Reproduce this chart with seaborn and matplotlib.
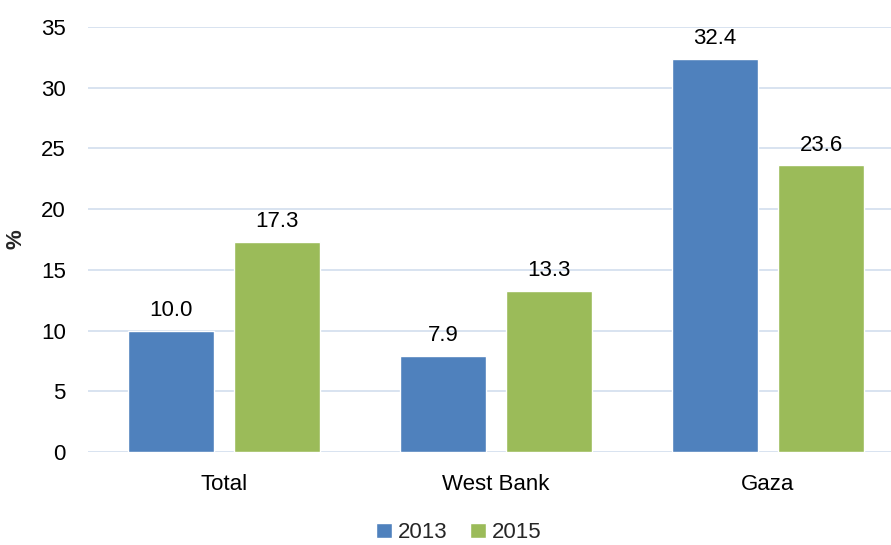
import matplotlib
matplotlib.use("Agg")
import matplotlib.pyplot as plt
import seaborn as sns
import pandas as pd

categories = ["Total", "West Bank", "Gaza"]
years = ["2013", "2015"]
values_2013 = [10.0, 7.9, 32.4]
values_2015 = [17.3, 13.3, 23.6]
yticks = [0, 5, 10, 15, 20, 25, 30, 35]

colors = ["#4F81BD", "#9BBB59"]

df = pd.DataFrame({
    "category": categories * 2,
    "year": [years[0]] * 3 + [years[1]] * 3,
    "value": values_2013 + values_2015,
})

sns.set_theme(style="white")
plt.rcParams["font.family"] = ["Liberation Sans", "DejaVu Sans"]

fig = plt.figure(figsize=(8.91, 5.45), dpi=100)
ax = fig.add_axes([88 / 891, 1 - 452 / 545, 1 - 88 / 891, (452 - 27) / 545])

sns.barplot(data=df, x="category", y="value", hue="year", palette=colors,
            width=0.779, gap=0.19, saturation=1, ax=ax, zorder=3)

for cont in ax.containers:
    ax.bar_label(cont, fmt="%.1f", padding=7, fontsize=16, color="#000000")

ax.set_ylim(0, 35)
ax.set_xlim(-0.5, 2.452)
ax.set_yticks(yticks)
ax.set_yticklabels([str(t) for t in yticks])
ax.yaxis.grid(True, color="#D6E0EF", linewidth=1.3, zorder=0)
ax.xaxis.grid(False)
for s in ax.spines.values():
    s.set_visible(False)
ax.tick_params(axis="both", length=0, labelsize=16, colors="#000000")
ax.tick_params(axis="y", pad=16)
ax.tick_params(axis="x", pad=16)
ax.set_xlabel("")
ax.set_ylabel("%", fontsize=16, fontweight="bold")
ax.yaxis.set_label_coords(-0.077, 0.5)

leg = ax.legend(loc="center", bbox_to_anchor=(0.462, -0.19), ncol=2,
                frameon=False, fontsize=16, handlelength=0.7, handleheight=0.7,
                handletextpad=0.3, columnspacing=1.0)

fig.savefig("out.png", dpi=100)
